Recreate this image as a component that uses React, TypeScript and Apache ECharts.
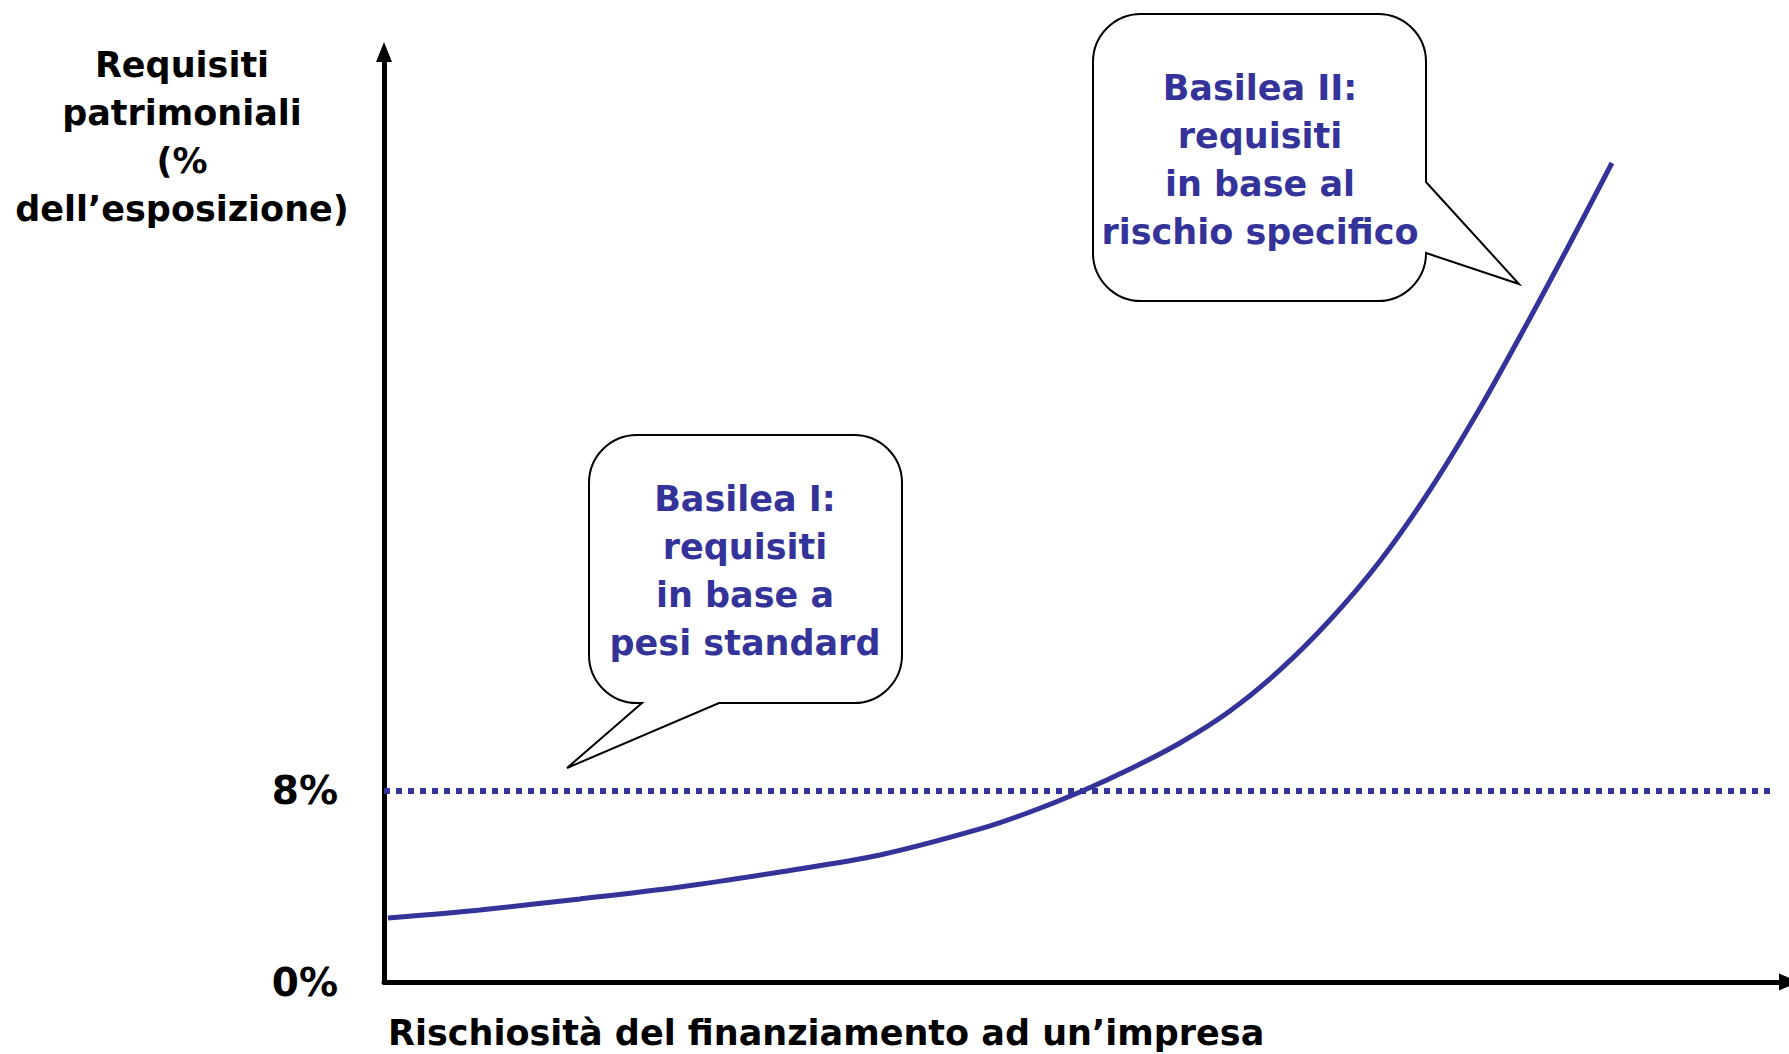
import React, { useEffect, useRef } from 'react';
import * as echarts from 'echarts';

// Curve: capital requirement (%) vs riskiness (0-100 scale)
const riskX = [0.28, 6.83, 13.95, 21.07, 28.19, 35.3, 42.42, 45.98, 49.54, 53.1, 56.65, 60.21, 63.77, 67.33, 70.89, 74.45, 78.01, 81.57, 84.2, 87.4];
const capitalY = [2.68, 3.02, 3.48, 3.98, 4.61, 5.32, 6.41, 7.12, 7.96, 8.92, 10.01, 11.35, 13.07, 15.16, 17.63, 20.61, 24.04, 27.81, 30.7, 34.3];
// Basilea I flat requirement
const basel1Level = 8;
const basel1Span = [0, 98.65];
const yTickLabels = [0, 8];
const yAxisTitle = ['Requisiti', 'patrimoniali', '(%', 'dell\u2019esposizione)'];
const xAxisTitle = 'Rischiosit\u00e0 del finanziamento ad un\u2019impresa';
const basel1Text = ['Basilea I:', 'requisiti', 'in base a', 'pesi standard'];
const basel2Text = ['Basilea II:', 'requisiti', 'in base al', 'rischio specifico'];

const BLUE = '#333399';
const FONT = 'DejaVu Sans';

const bubble1 =
  'M637 435 H854 A48 48 0 0 1 902 483 V655 A48 48 0 0 1 854 703 H719 L567 768 L642 703 H637 A48 48 0 0 1 589 655 V483 A48 48 0 0 1 637 435 Z';
const bubble2 =
  'M1141 14 H1378 A48 48 0 0 1 1426 62 V182 L1519 284 L1426 253 A48 48 0 0 1 1378 301 H1141 A48 48 0 0 1 1093 253 V62 A48 48 0 0 1 1141 14 Z';

let registered = false;
function registerShapes() {
  if (registered) return;
  echarts.graphic.registerShape('bubbleOne', echarts.graphic.extendPath(bubble1, {}) as any);
  echarts.graphic.registerShape('bubbleTwo', echarts.graphic.extendPath(bubble2, {}) as any);
  registered = true;
}

export default function App() {
  const ref = useRef<HTMLDivElement>(null);
  useEffect(() => {
    if (!ref.current) return;
    registerShapes();
    const chart = echarts.init(ref.current, undefined, { renderer: 'svg' });
    const textStyleBlack = { fontFamily: FONT, fontWeight: 'bold', fill: '#000' };
    const blueText = {
      fill: BLUE,
      fontFamily: FONT,
      fontWeight: 'bold',
      fontSize: 35,
      lineHeight: 48,
      align: 'center',
      verticalAlign: 'middle',
    };
    chart.setOption({
      animation: false,
      backgroundColor: '#fff',
      grid: { left: 384, right: 0, top: 52, bottom: 72 },
      xAxis: {
        type: 'value',
        min: 0,
        max: 100,
        axisLine: {
          show: true,
          symbol: ['none', 'triangle'],
          symbolSize: [17, 20],
          lineStyle: { color: '#000', width: 5 },
        },
        axisTick: { show: false },
        axisLabel: { show: false },
        splitLine: { show: false },
      },
      yAxis: {
        type: 'value',
        min: 0,
        max: 38.95,
        interval: 8,
        axisLine: {
          show: true,
          symbol: ['none', 'triangle'],
          symbolSize: [16, 20],
          lineStyle: { color: '#000', width: 5 },
        },
        axisTick: { show: false },
        splitLine: { show: false },
        axisLabel: {
          margin: 46,
          color: '#000',
          fontSize: 39,
          fontWeight: 'bold',
          fontFamily: FONT,
          formatter: (v: number) => (yTickLabels.includes(v) ? v + '%' : ''),
        },
      },
      series: [
        {
          type: 'line',
          data: basel1Span.map((x) => [x, basel1Level]),
          showSymbol: false,
          silent: true,
          lineStyle: { color: BLUE, width: 6, type: [6, 6], cap: 'butt' },
          z: 2,
        },
        {
          type: 'line',
          data: riskX.map((x, i) => [x, capitalY[i]]),
          smooth: 0.3,
          showSymbol: false,
          silent: true,
          lineStyle: { color: BLUE, width: 5 },
          z: 3,
        },
      ],
      graphic: [
        {
          type: 'text',
          x: 182,
          y: 137,
          style: {
            ...textStyleBlack,
            text: yAxisTitle.join('\n'),
            fontSize: 35,
            lineHeight: 48,
            align: 'center',
            verticalAlign: 'middle',
          },
        },
        {
          type: 'text',
          x: 388,
          y: 1033,
          style: {
            ...textStyleBlack,
            text: xAxisTitle,
            fontSize: 35,
            align: 'left',
            verticalAlign: 'middle',
          },
        },
        {
          type: 'bubbleOne',
          style: { fill: '#fff', stroke: '#000', lineWidth: 2 },
          z: 10,
        },
        {
          type: 'bubbleTwo',
          style: { fill: '#fff', stroke: '#000', lineWidth: 2 },
          z: 10,
        },
        {
          type: 'text',
          x: 745,
          y: 571,
          z: 11,
          style: { ...blueText, text: basel1Text.join('\n') },
        },
        {
          type: 'text',
          x: 1260,
          y: 160,
          z: 11,
          style: { ...blueText, text: basel2Text.join('\n') },
        },
      ],
    });
    return () => chart.dispose();
  }, []);
  return (
    <div
      ref={ref}
      style={{ position: 'absolute', left: 0, top: 0, width: 1789, height: 1054 }}
    />
  );
}
